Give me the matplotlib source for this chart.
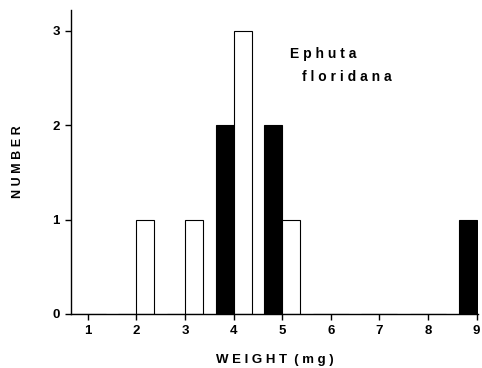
import numpy as np
import matplotlib
matplotlib.use('Agg')
import matplotlib.pyplot as plt

weight = [1, 2, 3, 4, 5, 6, 7, 8, 9]
# solid bars sit left of the tick, open bars right of it
solid = [0, 0, 0, 2, 2, 0, 0, 0, 1]
open_ = [0, 1, 1, 3, 1, 0, 0, 0, 0]
yticks = [0, 1, 2, 3]

plt.rcParams['font.family'] = ['Liberation Sans', 'DejaVu Sans']

fig = plt.figure(figsize=(4.82, 3.68), dpi=100)
ax = fig.add_axes([0.147, 0.147, 0.845, 0.826])

w = 0.37
x = np.array(weight)
ax.bar(x, solid, width=-w, align='edge', color='black', edgecolor='black', linewidth=0.8)
ax.bar(x, open_, width=w, align='edge', color='white', edgecolor='black', linewidth=0.8)

ax.set_xlim(0.65, 9.03)
ax.set_ylim(0, 3.22)
ax.set_xticks(weight)
ax.set_yticks(yticks)
ax.spines['top'].set_visible(False)
ax.spines['right'].set_visible(False)
ax.spines['left'].set_linewidth(1.0)
ax.spines['bottom'].set_linewidth(1.0)
ax.tick_params(direction='out', length=4, width=1, labelsize=9.5, pad=4)
for lab in ax.get_xticklabels() + ax.get_yticklabels():
    lab.set_fontweight('bold')

ax.set_xlabel('W E I G H T  ( m g )', fontsize=9.5, fontweight='bold', labelpad=12)
ax.set_ylabel('N U M B E R', fontsize=9, fontweight='bold', labelpad=20)

ax.text(5.16, 2.75, 'E p h u t a', fontsize=10, fontweight='bold', ha='left', va='center')
ax.text(5.41, 2.51, 'f l o r i d a n a', fontsize=10, fontweight='bold', ha='left', va='center')

fig.savefig('out.png', dpi=100)
